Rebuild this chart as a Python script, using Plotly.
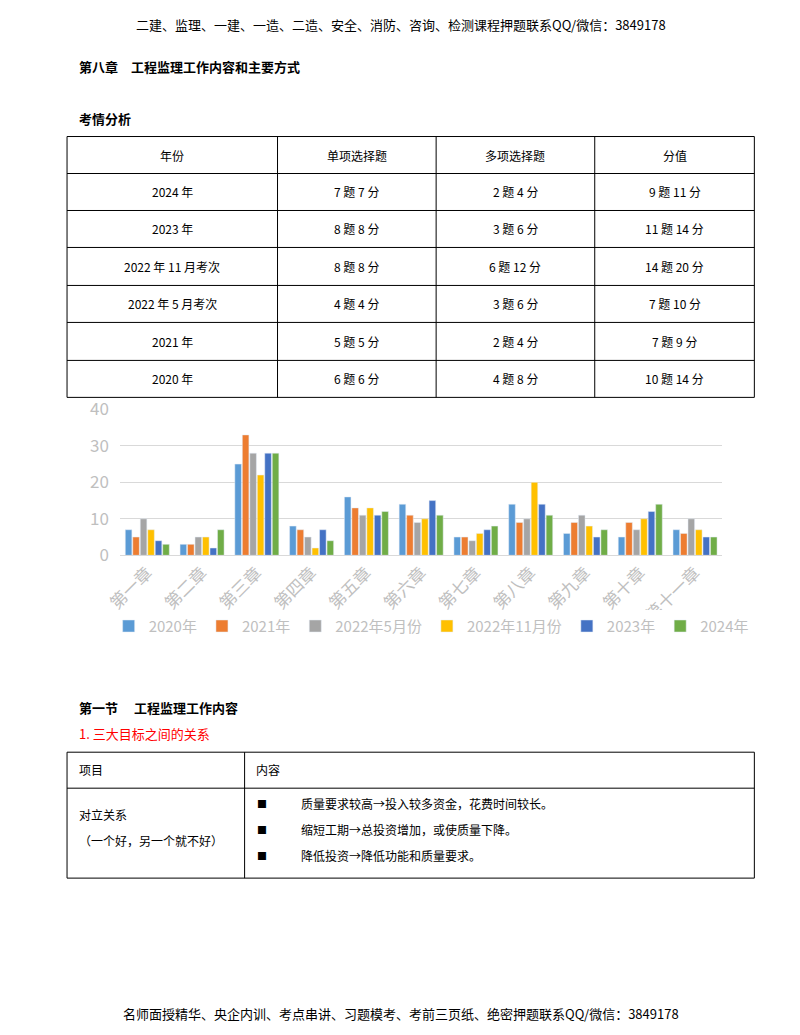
import plotly.graph_objects as go

chapters = ["第一章","第二章","第三章","第四章","第五章","第六章","第七章","第八章","第九章","第十章","第十一章"]
series_names = ["2020年","2021年","2022年5月份","2022年11月份","2023年","2024年"]
v2020 = [7,3,25,8,16,14,5,14,6,5,7]
v2021 = [5,3,33,7,13,11,5,9,9,9,6]
v2022a = [10,5,28,5,11,9,4,10,11,7,10]
v2022b = [7,5,22,2,13,10,6,20,8,10,7]
v2023 = [4,2,28,7,11,15,7,14,5,12,5]
v2024 = [3,7,28,4,12,11,8,11,7,14,5]
colors = ["#5B9BD5","#ED7D31","#A5A5A5","#FFC000","#4472C4","#70AD47"]

table_header = ["年份","单项选择题","多项选择题","分值"]
table_rows = [
    ["2024 年","7 题 7 分","2 题 4 分","9 题 11 分"],
    ["2023 年","8 题 8 分","3 题 6 分","11 题 14 分"],
    ["2022 年 11 月考次","8 题 8 分","6 题 12 分","14 题 20 分"],
    ["2022 年 5 月考次","4 题 4 分","3 题 6 分","7 题 10 分"],
    ["2021 年","5 题 5 分","2 题 4 分","7 题 9 分"],
    ["2020 年","6 题 6 分","4 题 8 分","10 题 14 分"],
]
rel_items = ["质量要求较高→投入较多资金，花费时间较长。","缩短工期→总投资增加，或使质量下降。","降低投资→降低功能和质量要求。"]

W, H = 784, 1019
OX, OY = 8, 8
def px(x): return ((x - 14) / 0.982 - OX) / W
def py(y): return 1 - ((y - 13.6) / 0.976 - OY) / H

fig = go.Figure()
for name, vals, c in zip(series_names, [v2020,v2021,v2022a,v2022b,v2023,v2024], colors):
    fig.add_trace(go.Bar(x=chapters, y=vals, name=name, marker_color=c))

shapes, ann = [], []
FONT = "Noto Sans CJK SC"
def line(x0,y0,x1,y1,w=1):
    shapes.append(dict(type="line", xref="paper", yref="paper", x0=px(x0), y0=py(y0), x1=px(x1), y1=py(y1), line=dict(color="black", width=w)))
def text(x,y,t,size=12,color="black",anchor="center",bold=False):
    if bold: t = "<b>"+t+"</b>"
    ann.append(dict(xref="paper", yref="paper", x=px(x), y=py(y), text=t, showarrow=False, xanchor=anchor, yanchor="middle", font=dict(size=size, color=color, family=FONT)))

text(400,24,"二建、监理、一建、一造、二造、安全、消防、咨询、检测课程押题联系QQ/微信：3849178",13)
text(75,66,"第八章　工程监理工作内容和主要方式",13,anchor="left",bold=True)
text(75,118,"考情分析",13,anchor="left",bold=True)

ys = [136,173,210,247,285,322,360,397]
xs = [65,276,435,594,754]
for y in ys: line(65,y,754,y)
for x in xs: line(x,136,x,397)
for j,h in enumerate(table_header):
    text((xs[j]+xs[j+1])/2,(ys[0]+ys[1])/2,h,12)
for i,r in enumerate(table_rows):
    for j,c in enumerate(r):
        text((xs[j]+xs[j+1])/2,(ys[i+1]+ys[i+2])/2,c,12)

text(75,707,"第一节　 工程监理工作内容",13,anchor="left",bold=True)
text(75,733,"1. 三大目标之间的关系",13,color="red",anchor="left")
for y in [752,788,878]: line(65,y,754,y)
for x in [65,243,754]: line(x,752,x,878)
text(75,769,"项目",12,anchor="left")
text(252,769,"内容",12,anchor="left")
text(75,814,"对立关系",12,anchor="left")
text(75,840,"（一个好，另一个就不好）",12,anchor="left")
for k,item in enumerate(rel_items):
    yy = 803+k*26
    text(253,yy,"■",10,anchor="left")
    text(298,yy,item,12,anchor="left")

text(400,1013,"名师面授精华、央企内训、考点串讲、习题模考、考前三页纸、绝密押题联系QQ/微信：3849178",13)

fig.update_layout(
    width=W, height=H, margin=dict(l=0,r=0,t=0,b=0),
    paper_bgcolor="white", plot_bgcolor="white",
    barmode="group", bargap=0.18, bargroupgap=0.12,
    shapes=shapes, annotations=ann,
    font=dict(family=FONT),
    xaxis=dict(domain=[px(118),px(722)], anchor="y", tickangle=-45, tickfont=dict(size=17,color="#BFBFBF"), showline=True, linecolor="#D9D9D9", ticks=""),
    yaxis=dict(domain=[py(555),py(409)], range=[0,40], dtick=10, gridcolor="#D9D9D9", tickfont=dict(size=17,color="#BFBFBF"), zeroline=False, ticklabelstandoff=10),
    legend=dict(orientation="h", x=px(430), xanchor="center", y=py(626), yanchor="middle", font=dict(size=15,color="#BFBFBF"), itemwidth=30, tracegroupgap=0),
    showlegend=True,
)
fig.write_html("out.html", config={"displayModeBar": False})
